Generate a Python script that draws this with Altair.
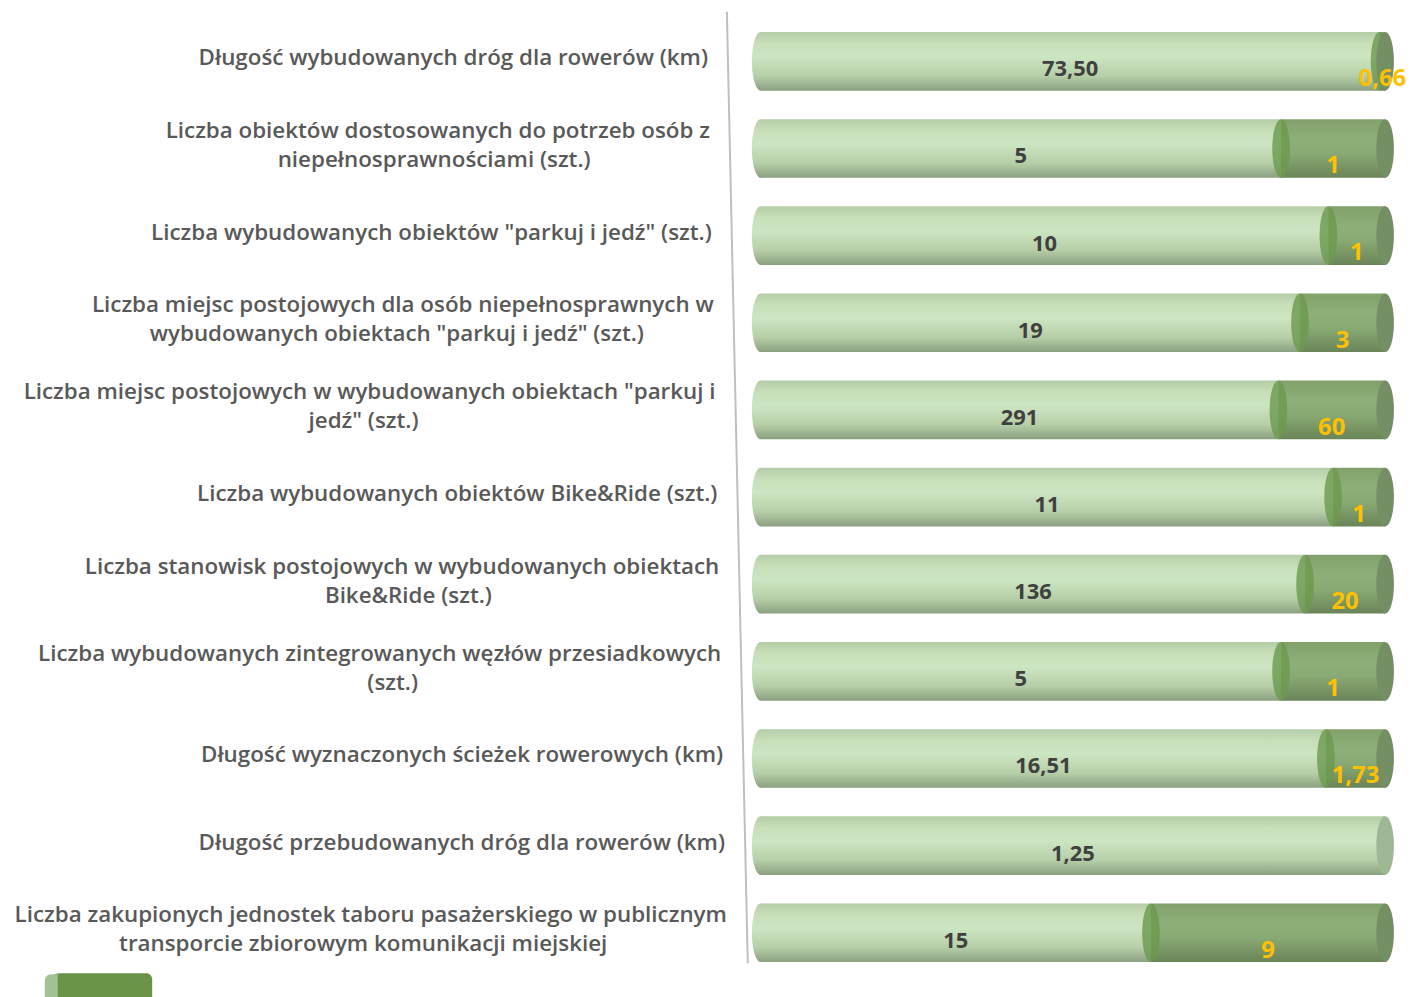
import altair as alt
import pandas as pd

# ---- data ----
labels = [
    "Długość wybudowanych dróg dla rowerów (km)",
    "Liczba obiektów dostosowanych do potrzeb osób z|niepełnosprawnościami (szt.)",
    'Liczba wybudowanych obiektów "parkuj i jedź" (szt.)',
    'Liczba miejsc postojowych dla osób niepełnosprawnych w|wybudowanych obiektach "parkuj i jedź" (szt.)',
    'Liczba miejsc postojowych w wybudowanych obiektach "parkuj i|jedź" (szt.)',
    "Liczba wybudowanych obiektów Bike&Ride (szt.)",
    "Liczba stanowisk postojowych w wybudowanych obiektach|Bike&Ride (szt.)",
    "Liczba wybudowanych zintegrowanych węzłów przesiadkowych|(szt.)",
    "Długość wyznaczonych ścieżek rowerowych (km)",
    "Długość przebudowanych dróg dla rowerów (km)",
    "Liczba zakupionych jednostek taboru pasażerskiego w publicznym|transporcie zbiorowym komunikacji miejskiej",
]
series_1 = [73.50, 5, 10, 19, 291, 11, 136, 5, 16.51, 1.25, 15]
series_2 = [0.66, 1, 1, 3, 60, 1, 20, 1, 1.73, 0, 9]

df = pd.DataFrame({"label": labels, "v1": series_1, "v2": series_2})
df["i"] = range(len(df))

FONT = "Open Sans"
LABEL_SIZE = 22.5
CHAR_W = 11.8
LINE_H = 29

xscale = alt.Scale(domain=[0, 1], range=[757, 1385])
yscale = alt.Scale(domain=labels, range=[6, 970], paddingInner=0, paddingOuter=0)
Y = alt.Y("label:N", scale=yscale, axis=None, sort=labels)

ELLIPSE = "M 0 -1 A 0.3 1 0 0 1 0 1 A 0.3 1 0 0 1 0 -1 Z"
BAR_H = 59
SYM_SIZE = BAR_H * BAR_H

light_grad = alt.LinearGradient(
    gradient="linear", x1=0, x2=0, y1=0, y2=1,
    stops=[
        alt.GradientStop(color="#b4cda6", offset=0),
        alt.GradientStop(color="#c7e0ba", offset=0.2),
        alt.GradientStop(color="#cde6c2", offset=0.42),
        alt.GradientStop(color="#b6cfa8", offset=0.75),
        alt.GradientStop(color="#8ba07f", offset=1),
    ],
)
dark_grad = alt.LinearGradient(
    gradient="linear", x1=0, x2=0, y1=0, y2=1,
    stops=[
        alt.GradientStop(color="#82a06b", offset=0),
        alt.GradientStop(color="#8eb078", offset=0.35),
        alt.GradientStop(color="#88a972", offset=0.6),
        alt.GradientStop(color="#6a8458", offset=1),
    ],
)

base = alt.Chart(df).transform_calculate(
    p1="datum.v1 / (datum.v1 + datum.v2)",
    zero="0",
    one="1",
    mid1="datum.v1 / (datum.v1 + datum.v2) / 2",
    mid2="(1 + datum.v1 / (datum.v1 + datum.v2)) / 2",
    t1="replace(format(datum.v1, datum.v1 % 1 == 0 ? 'd' : '.2f'), '.', ',')",
    t2="replace(format(datum.v2, datum.v2 % 1 == 0 ? 'd' : '.2f'), '.', ',')",
    nlines="length(split(datum.label, '|'))",
    line1="split(datum.label, '|')[0]",
    line2="length(split(datum.label, '|')) > 1 ? split(datum.label, '|')[1] : ''",
    rx="704 + datum.i * 1.9",
    cx=f"704 + datum.i * 1.9 - length(split(datum.label, '|')[0]) * {CHAR_W} / 2",
)

light_bar = base.mark_bar(size=BAR_H, color=light_grad).encode(
    x=alt.X("zero:Q", scale=xscale, axis=None), x2="p1:Q", y=Y
)
left_cap = base.mark_point(shape=ELLIPSE, size=SYM_SIZE, filled=True, color=light_grad,
                           opacity=1, strokeWidth=0).encode(
    x=alt.X("zero:Q", scale=xscale, axis=None), y=Y
)
dark_bar = base.transform_filter("datum.v2 > 0").mark_bar(size=BAR_H, color=dark_grad).encode(
    x=alt.X("p1:Q", scale=xscale, axis=None), x2="one:Q", y=Y
)
junction = base.transform_filter("datum.v2 > 0").mark_point(
    shape=ELLIPSE, size=SYM_SIZE, filled=True, color="#6b984f", opacity=0.8, strokeWidth=0
).encode(x=alt.X("p1:Q", scale=xscale, axis=None), y=Y)
right_cap_dark = base.transform_filter("datum.v2 > 0").mark_point(
    shape=ELLIPSE, size=SYM_SIZE, filled=True, color="#758f64", opacity=1, strokeWidth=0
).encode(x=alt.X("one:Q", scale=xscale, axis=None), y=Y)
right_cap_light = base.transform_filter("datum.v2 == 0").mark_point(
    shape=ELLIPSE, size=SYM_SIZE, filled=True, color="#9fb893", opacity=1, strokeWidth=0
).encode(x=alt.X("one:Q", scale=xscale, axis=None), y=Y)

val1 = base.mark_text(font=FONT, fontSize=22, fontWeight="bold", color="#404040",
                      baseline="middle", dy=8).encode(
    x=alt.X("mid1:Q", scale=xscale, axis=None), y=Y, text="t1:N"
)
val2 = base.transform_filter("datum.v2 > 0").mark_text(
    font=FONT, fontSize=24, fontWeight="bold", color="#ffc000", baseline="middle", dy=18
).encode(x=alt.X("mid2:Q", scale=xscale, axis=None), y=Y, text="t2:N")

label_style = dict(font=FONT, fontSize=LABEL_SIZE, fontWeight=600, color="#595959",
                   baseline="middle")
single = base.transform_filter("datum.nlines == 1").mark_text(
    dy=-3, align="right", **label_style
).encode(x=alt.X("rx:Q", scale=None), y=Y, text="line1:N")
first = base.transform_filter("datum.nlines > 1").mark_text(
    dy=-3 - LINE_H / 2, align="right", **label_style
).encode(x=alt.X("rx:Q", scale=None), y=Y, text="line1:N")
second = base.transform_filter("datum.nlines > 1").mark_text(
    dy=-3 + LINE_H / 2, align="center", **label_style
).encode(x=alt.X("cx:Q", scale=None), y=Y, text="line2:N")

rule_df = pd.DataFrame({"k": [0]})
axis_line = alt.Chart(rule_df).mark_rule(color="#bfbfbf", strokeWidth=2).encode(
    x=alt.value(723), x2=alt.value(744), y=alt.value(0), y2=alt.value(957)
)
legend_dark = alt.Chart(rule_df).mark_rect(color="#6a9448", cornerRadiusTopLeft=12,
                                           cornerRadiusTopRight=6).encode(
    x=alt.value(40), x2=alt.value(145), y=alt.value(967), y2=alt.value(995)
)
legend_light = alt.Chart(rule_df).mark_rect(color="#a3c293", cornerRadiusTopLeft=12).encode(
    x=alt.value(37), x2=alt.value(50), y=alt.value(968), y2=alt.value(995)
)

chart = alt.layer(
    axis_line, light_bar, left_cap, right_cap_light, dark_bar, junction, right_cap_dark,
    val1, val2, single, first, second, legend_dark, legend_light
).properties(
    width=1399, height=975, padding=0
).configure_view(stroke=None)

chart.save("out.html", embed_options={"renderer": "svg", "actions": False})
